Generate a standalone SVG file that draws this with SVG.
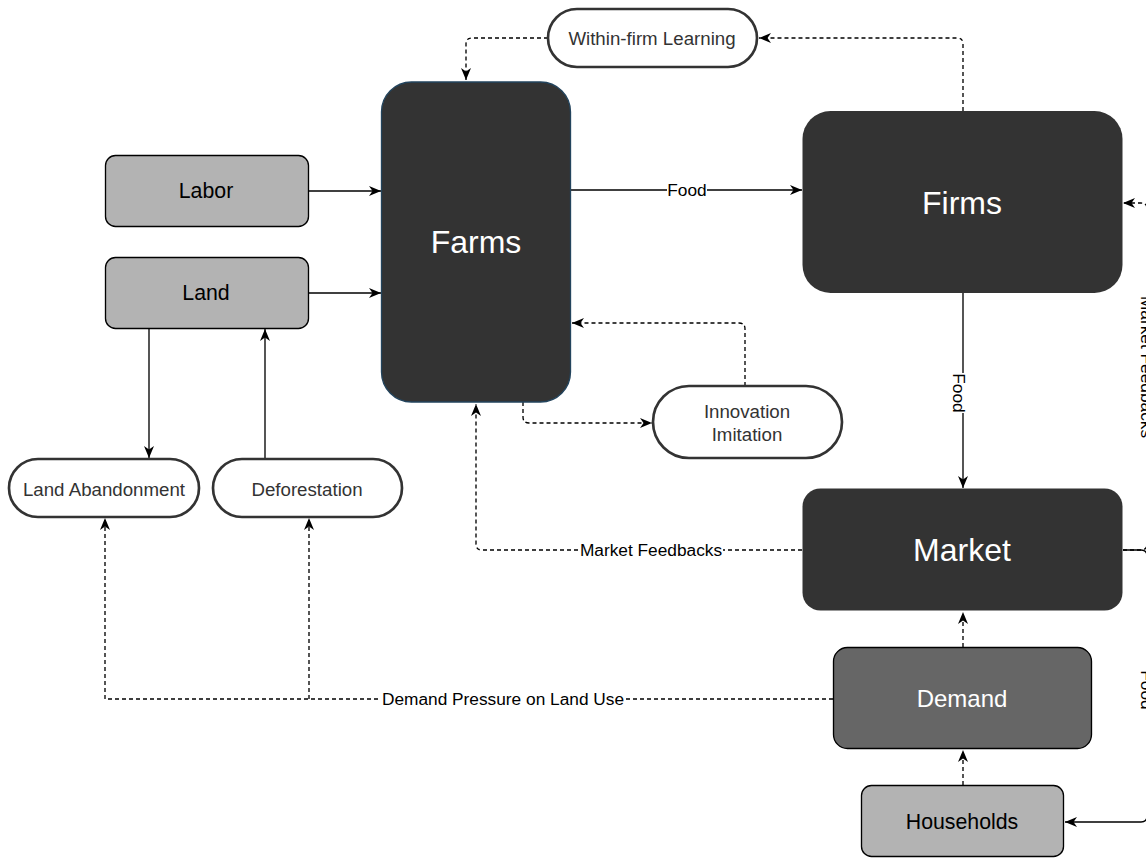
<svg xmlns="http://www.w3.org/2000/svg" width="1146" height="858" viewBox="0 0 1146 858">
<style>
text{font-family:"Liberation Sans",Arial,Helvetica,sans-serif;text-anchor:middle;dominant-baseline:central}
.dark{fill:#333333}
.big{font-size:32px;fill:#ffffff}
.grey{fill:#B3B3B3;stroke:#000000;stroke-width:1.33}
.pill{fill:#ffffff;stroke:#333333;stroke-width:2.67}
.pt{font-size:18.7px;fill:#333333}
.nt{font-size:21.3px;fill:#000000}
.el{font-size:17.3px;fill:#000000}
.line{fill:none;stroke:#000000;stroke-width:1.33}
.dash{stroke-dasharray:4 3}
.lbg{fill:#ffffff}
</style>
<defs>
<marker id="arr" viewBox="0 0 12 10" refX="12" refY="5" markerWidth="12" markerHeight="10" markerUnits="userSpaceOnUse" orient="auto">
<path d="M0,0 L12,5 L0,10 L3.5,5 Z" fill="#000000"/>
</marker>
</defs>
<rect width="1146" height="858" fill="#ffffff"/>

<g id="connectors">
<!-- Labor -> Farms -->
<path class="line" d="M309,191 L381,191" marker-end="url(#arr)"/>
<!-- Land -> Farms -->
<path class="line" d="M309,293 L381,293" marker-end="url(#arr)"/>
<!-- Farms -> Firms -->
<path class="line" d="M571,190 L802,190" marker-end="url(#arr)"/>
<rect class="lbg" x="667" y="181" width="40" height="18"/>
<text class="el" x="687" y="190">Food</text>
<!-- Firms -> Market -->
<path class="line" d="M963,293 L963,488" marker-end="url(#arr)"/>
<rect class="lbg" x="952" y="373" width="16" height="40"/>
<text class="el" x="959" y="393" transform="rotate(90 959 393)">Food</text>
<!-- Land -> Land Abandonment -->
<path class="line" d="M149,329 L149,458" marker-end="url(#arr)"/>
<!-- Deforestation -> Land -->
<path class="line" d="M265,458 L265,329" marker-end="url(#arr)"/>
<!-- Within-firm Learning -> Farms -->
<path class="line dash" d="M548,38 L472,38 Q466,38 466,44 L466,80" marker-end="url(#arr)"/>
<!-- Firms -> Within-firm Learning -->
<path class="line dash" d="M963,111 L963,44 Q963,38 957,38 L759,38" marker-end="url(#arr)"/>
<!-- Innovation -> Farms -->
<path class="line dash" d="M745,386 L745,329 Q745,323 739,323 L572,323" marker-end="url(#arr)"/>
<!-- Farms -> Innovation -->
<path class="line dash" d="M523,402 L523,417 Q523,423 529,423 L652,423" marker-end="url(#arr)"/>
<!-- Market -> Farms (Market Feedbacks) -->
<path class="line dash" d="M802,550 L482,550 Q476,550 476,544 L476,404" marker-end="url(#arr)"/>
<rect class="lbg" x="579" y="541" width="144" height="18"/>
<text class="el" x="651" y="550">Market Feedbacks</text>
<!-- Demand -> Land Abandonment / Deforestation -->
<path class="line dash" d="M833,699 L105,699 L105,518" marker-end="url(#arr)"/>
<path class="line dash" d="M309,699 L309,518" marker-end="url(#arr)"/>
<rect class="lbg" x="381" y="690" width="245" height="18"/>
<text class="el" x="503" y="699">Demand Pressure on Land Use</text>
<!-- Demand -> Market -->
<path class="line dash" d="M963,647 L963,612" marker-end="url(#arr)"/>
<!-- Households -> Demand -->
<path class="line dash" d="M963,785 L963,750" marker-end="url(#arr)"/>
<!-- Market -> Firms (right side) -->
<path class="line dash" d="M1123,550 L1141,550 Q1147,550 1147,544 L1147,209 Q1147,203 1141,203 L1123,203" marker-end="url(#arr)"/>
<rect class="lbg" x="1138" y="310" width="18" height="114"/>
<text class="el" x="1147" y="367" transform="rotate(90 1147 367)">Market Feedbacks</text>
<!-- Market -> Households (right side) -->
<path class="line" d="M1123,550 L1141,550 Q1147,550 1147,556 L1147,816 Q1147,822 1141,822 L1065,822" marker-end="url(#arr)"/>
<rect class="lbg" x="1138" y="670" width="18" height="42"/>
<text class="el" x="1147" y="690" transform="rotate(90 1147 690)">Food</text>
</g>

<g id="farms">
<rect x="381.5" y="82" width="189" height="320" rx="30" fill="#333333" stroke="#23445D" stroke-width="1.33"/>
<text class="big" x="476" y="242">Farms</text>
</g>
<g id="firms">
<rect x="802.5" y="111" width="320" height="182" rx="28" fill="#333333"/>
<text class="big" x="962" y="203">Firms</text>
</g>
<g id="market">
<rect x="802.5" y="488.5" width="320" height="122" rx="18" fill="#333333"/>
<text class="big" x="962" y="550">Market</text>
</g>
<g id="demand">
<rect x="833.5" y="647.5" width="258" height="101" rx="14" fill="#666666" stroke="#000000" stroke-width="1.33"/>
<text x="962" y="698" style="font-size:24px;fill:#ffffff">Demand</text>
</g>
<g id="households">
<rect class="grey" x="861.5" y="785.5" width="202" height="71" rx="10"/>
<text class="nt" x="962" y="822">Households</text>
</g>
<g id="labor">
<rect class="grey" x="105.5" y="155.5" width="203" height="71" rx="10"/>
<text class="nt" x="206" y="191">Labor</text>
</g>
<g id="land">
<rect class="grey" x="105.5" y="257.5" width="203" height="71" rx="10"/>
<text class="nt" x="206" y="293">Land</text>
</g>
<g id="within-firm-learning">
<rect class="pill" x="548" y="9" width="209" height="58" rx="29"/>
<text class="pt" x="652" y="38">Within-firm Learning</text>
</g>
<g id="innovation-imitation">
<rect class="pill" x="653" y="386" width="189" height="72" rx="36"/>
<text class="pt" x="747" y="411">Innovation</text>
<text class="pt" x="747" y="434">Imitation</text>
</g>
<g id="land-abandonment">
<rect class="pill" x="9" y="459" width="190" height="58" rx="29"/>
<text class="pt" x="104" y="489">Land Abandonment</text>
</g>
<g id="deforestation">
<rect class="pill" x="213" y="459" width="189" height="58" rx="29"/>
<text class="pt" x="307" y="489">Deforestation</text>
</g>
</svg>
